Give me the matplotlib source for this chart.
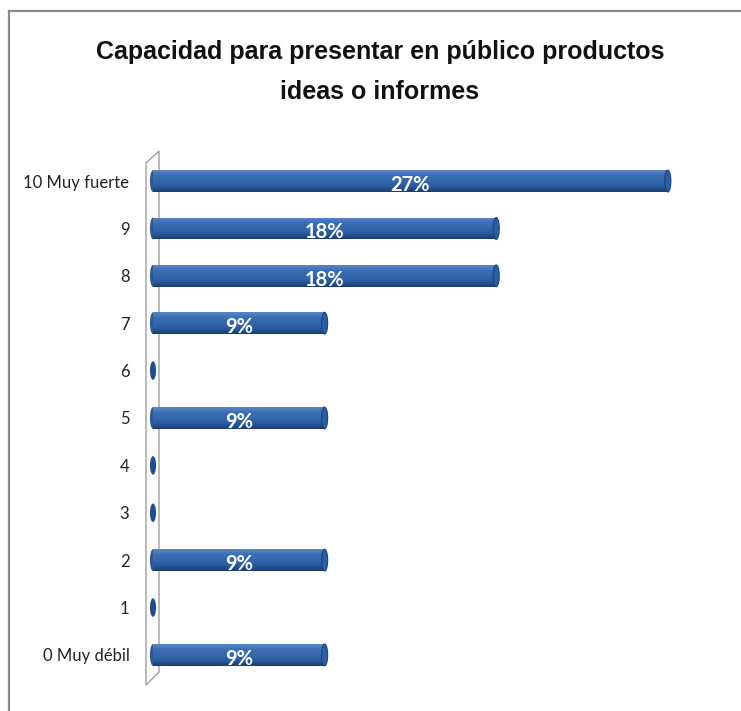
import matplotlib
matplotlib.use("Agg")
import matplotlib.pyplot as plt
import numpy as np
from matplotlib.patches import Ellipse, Polygon
from matplotlib.lines import Line2D
from matplotlib.colors import LinearSegmentedColormap

categories = ["0 Muy débil", "1", "2", "3", "4", "5", "6", "7", "8", "9", "10 Muy fuerte"]
values = [9, 0, 9, 0, 0, 9, 0, 9, 18, 18, 27]
title_lines = ["Capacidad para presentar en público productos", "ideas o informes"]

W, H = 741, 711
fig = plt.figure(figsize=(W / 100, H / 100), dpi=100)
fig.patch.set_facecolor("white")

def fx(px):
    return px / W

def fy(py):
    return 1 - py / H

# frame lines
fig.add_artist(Line2D([fx(9), fx(741)], [fy(11), fy(11)], color="#8a8a8a", lw=1.6))
fig.add_artist(Line2D([fx(9), fx(9)], [fy(11), fy(711)], color="#8a8a8a", lw=1.6))

# back wall (thin 3D side wall)
wall = Polygon([(fx(146), fy(163)), (fx(159), fy(151)), (fx(159), fy(672)), (fx(146), fy(685))],
               closed=True, transform=fig.transFigure, facecolor="#fafafa",
               edgecolor="#a0a0a0", lw=1.0, zorder=0)
fig.add_artist(wall)

x0, x1 = 153, 725
y_top, y_bot = 155, 681
ax = fig.add_axes([fx(x0), fy(y_bot), (x1 - x0) / W, (y_bot - y_top) / H])
ax.set_facecolor("none")

ypos = np.arange(len(categories))
bh = 0.46
base_color = "#2e60a4"
bars = ax.barh(ypos, values, height=bh, color=base_color, zorder=2)

cmap = LinearSegmentedColormap.from_list(
    "cyl", ["#1b3c6e", "#2a5a9c", "#3468ad", "#3a6fb4", "#5b86c4"])
grad = np.linspace(0, 1, 64).reshape(-1, 1)

cap_w = 0.32
for b, v, y in zip(bars, values, ypos):
    if v > 0:
        im = ax.imshow(grad, extent=(0, v, y - bh / 2, y + bh / 2), origin="lower",
                       cmap=cmap, aspect="auto", zorder=3, interpolation="bilinear")
        im.set_clip_path(b)
        ax.add_patch(Ellipse((0, y), cap_w, bh, facecolor="#2a5898", edgecolor="none",
                             zorder=2.5, clip_on=False))
        ax.add_patch(Ellipse((v, y), cap_w, bh, facecolor="#2d5e9f", edgecolor="#1d4277",
                             lw=0.8, zorder=4))
        ax.text(v / 2, y - 0.08, f"{v}%", color="white", fontsize=14.5, fontweight="bold",
                family=["Lato", "DejaVu Sans"], ha="center", va="center", zorder=5)
    else:
        ax.add_patch(Ellipse((0, y), cap_w, bh * 0.85, facecolor="#1f4e8c", edgecolor="none",
                             zorder=4, clip_on=False))

ax.set_xlim(0, 30)
ax.set_ylim(-0.55, len(categories) - 0.45)
ax.set_yticks(ypos)
ax.set_yticklabels(categories, family=["Lato", "DejaVu Sans"], fontsize=12, color="#222222")
ax.tick_params(axis="y", length=0, pad=17)
ax.set_xticks([])
for s in ax.spines.values():
    s.set_visible(False)

fig.text(fx(380), fy(52), title_lines[0], ha="center", va="center", fontsize=18,
         fontweight="bold", family=["Liberation Sans", "DejaVu Sans"], color="#111111")
fig.text(fx(380), fy(92), title_lines[1], ha="center", va="center", fontsize=18,
         fontweight="bold", family=["Liberation Sans", "DejaVu Sans"], color="#111111")

fig.savefig("out.png", dpi=100, facecolor="white")
